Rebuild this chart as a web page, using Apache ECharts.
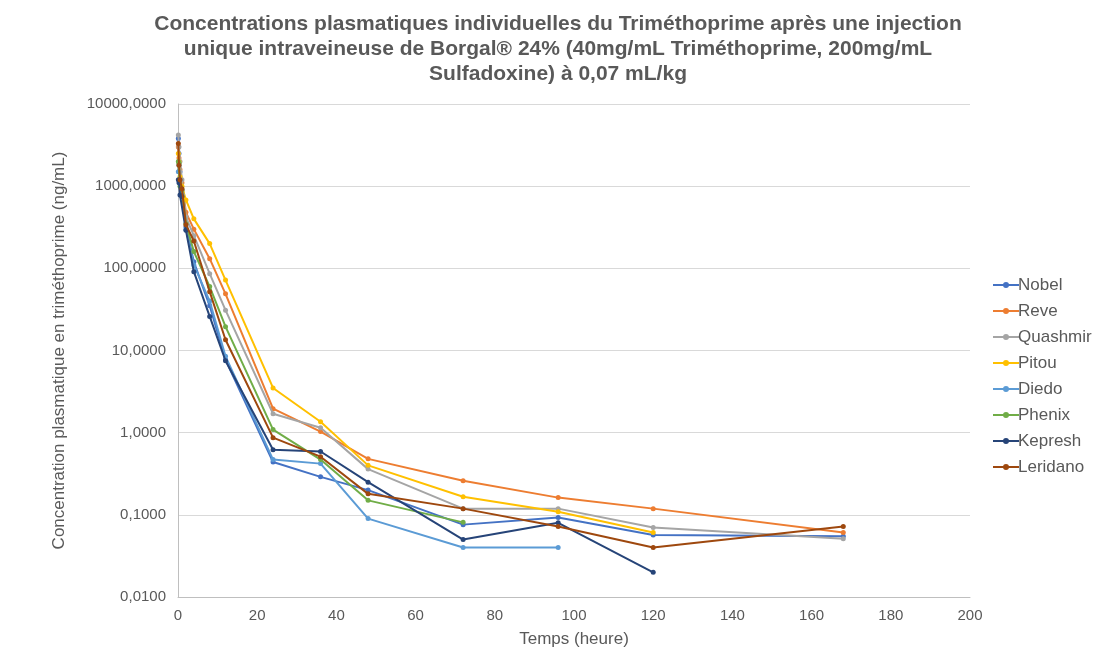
<!DOCTYPE html>
<html>
<head>
<meta charset="utf-8">
<script src="https://cdn.jsdelivr.net/npm/echarts@6/dist/echarts.min.js"></script>
<style>
html,body{margin:0;padding:0;background:#fff;}
#chart{width:1107px;height:663px;}
</style>
</head>
<body>
<div id="chart"></div>
<script>
const titleLines = [
  "Concentrations plasmatiques individuelles du Triméthoprime après une injection",
  "unique intraveineuse de Borgal® 24% (40mg/mL Triméthoprime, 200mg/mL",
  "Sulfadoxine) à 0,07 mL/kg"
];
const xAxisName = "Temps (heure)";
const yAxisName = "Concentration plasmatique en triméthoprime (ng/mL)";

const times = [0.083, 0.25, 0.5, 1, 2, 4, 8, 12, 24, 36, 48, 72, 96, 120, 168];

const seriesNames = ["Nobel", "Reve", "Quashmir", "Pitou", "Diedo", "Phenix", "Kepresh", "Leridano"];
const seriesColors = ["#4472C4", "#ED7D31", "#A5A5A5", "#FFC000", "#5B9BD5", "#70AD47", "#264478", "#9E480E"];

const nobel    = [3800, 2500, 1500, 900, 320, 120, 35, 7.7, 0.44, 0.29, 0.20, 0.076, 0.093, 0.057, 0.055];
const reve     = [3000, 2200, 1600, 1100, 480, 300, 131, 49, 1.96, 1.03, 0.48, 0.26, 0.162, 0.119, 0.061];
const quashmir = [4200, 3000, 2000, 1200, 420, 250, 86, 31, 1.70, 1.15, 0.36, 0.119, 0.119, 0.070, 0.051];
const pitou    = [2500, 2000, 1300, 1000, 680, 400, 200, 72, 3.5, 1.36, 0.40, 0.166, 0.109, 0.061];
const diedo    = [1500, 1800, 1200, 800, 300, 110, 40, 8.5, 0.47, 0.42, 0.09, 0.040, 0.040];
const phenix   = [2000, 1900, 1000, 900, 350, 160, 60, 19.5, 1.09, 0.47, 0.15, 0.081];
const kepresh  = [1200, 1100, 780, 750, 290, 91, 26, 7.5, 0.62, 0.59, 0.25, 0.050, 0.080, 0.020];
const leridano = [3300, 1800, 1200, 930, 340, 215, 52, 13.5, 0.87, 0.51, 0.18, 0.119, 0.072, 0.040, 0.072];

const allValues = [nobel, reve, quashmir, pitou, diedo, phenix, kepresh, leridano];

const textColor = "#595959";
const fontFam = "'Liberation Sans', Arial, Helvetica, sans-serif";

const chart = echarts.init(document.getElementById('chart'));

const series = seriesNames.map((name, i) => ({
  name: name,
  type: 'line',
  data: allValues[i].map((v, j) => [times[j], v]),
  symbol: 'circle',
  symbolSize: 5,
  lineStyle: { width: 2, color: seriesColors[i] },
  itemStyle: { color: seriesColors[i] },
  emphasis: { disabled: true },
  z: 10 + i
}));

chart.setOption({
  animation: false,
  backgroundColor: '#ffffff',
  textStyle: { fontFamily: fontFam },
  title: {
    text: titleLines.join('\n'),
    left: 553,
    textAlign: 'center',
    top: 7,
    textStyle: {
      fontFamily: fontFam,
      fontSize: 21,
      fontWeight: 'bold',
      color: textColor,
      lineHeight: 25
    }
  },
  legend: {
    orient: 'vertical',
    left: 988,
    top: 271,
    itemWidth: 26,
    itemHeight: 6,
    itemGap: 8,
    icon: 'path://M0,4L26,4L26,6L0,6Z M10,5A3,3,0,1,1,16,5A3,3,0,1,1,10,5Z',
    textStyle: { fontFamily: fontFam, fontSize: 17, color: textColor, padding: [0, 0, 0, -6], lineHeight: 18 },
    data: seriesNames.map((n, i) => ({ name: n, itemStyle: { color: seriesColors[i], borderWidth: 0 } }))
  },
  grid: {
    left: 178,
    right: 137,
    top: 104,
    bottom: 66,
    containLabel: false
  },
  xAxis: {
    type: 'value',
    min: 0,
    max: 200,
    interval: 20,
    name: xAxisName,
    nameLocation: 'middle',
    nameGap: 34,
    nameTextStyle: { fontFamily: fontFam, fontSize: 17, color: textColor },
    axisLine: { show: true, lineStyle: { color: '#bfbfbf', width: 1 } },
    axisTick: { show: false },
    splitLine: { show: false },
    axisLabel: { fontFamily: fontFam, fontSize: 15, color: textColor, margin: 11 }
  },
  yAxis: {
    type: 'log',
    logBase: 10,
    min: 0.01,
    max: 10000,
    name: yAxisName,
    nameLocation: 'middle',
    nameGap: 110,
    nameRotate: 90,
    nameTextStyle: { fontFamily: fontFam, fontSize: 17, color: textColor },
    axisLine: { show: true, lineStyle: { color: '#bfbfbf', width: 1 } },
    axisTick: { show: false },
    splitLine: { show: true, lineStyle: { color: '#d9d9d9', width: 1 } },
    axisLabel: {
      fontFamily: fontFam,
      fontSize: 15,
      color: textColor,
      margin: 12,
      formatter: function (v) { return Number(v).toFixed(4).replace('.', ','); }
    }
  },
  series: series
});
</script>
</body>
</html>
